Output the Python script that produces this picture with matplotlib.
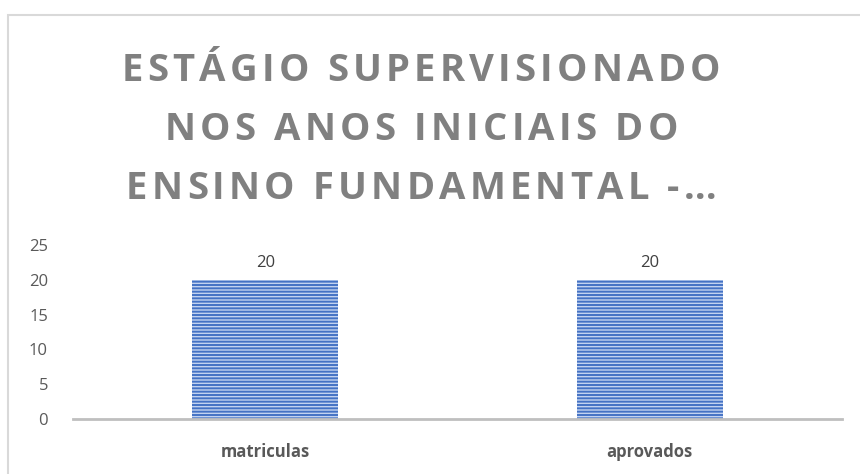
import matplotlib.pyplot as plt
from matplotlib.patches import Rectangle

categorias = ['matriculas', 'aprovados']
valores = [20, 20]
yticks = [0, 5, 10, 15, 20, 25]
titulo = ['ESTÁGIO SUPERVISIONADO', 'NOS ANOS INICIAIS DO', 'ENSINO FUNDAMENTAL -…']

plt.rcParams['font.family'] = ['Open Sans', 'DejaVu Sans']
plt.rcParams['hatch.linewidth'] = 1.4

fig = plt.figure(figsize=(8.6, 4.74), dpi=100)
ax = fig.add_axes([0.0849, 0.116, 0.894, 0.367])

x = range(len(categorias))
bars = ax.bar(x, valores, width=0.38, color='#c3d3f0', edgecolor='#4472c4',
              hatch='-----', linewidth=0)
for b, v in zip(bars, valores):
    ax.text(b.get_x() + b.get_width() / 2, v + 1.3, str(v), ha='center', va='bottom',
            fontsize=12, color='#404040')

ax.set_xlim(-0.5, 1.5)
ax.set_ylim(0, 25)
ax.set_yticks(yticks)
ax.set_xticks(list(x))
ax.set_xticklabels(categorias, fontweight='bold', fontsize=12, color='#595959')
ax.tick_params(axis='y', length=0, labelsize=12, labelcolor='#595959', pad=18)
ax.tick_params(axis='x', length=0, pad=17)
for s in ['top', 'right', 'left']:
    ax.spines[s].set_visible(False)
ax.spines['bottom'].set_color('#bfbfbf')
ax.spines['bottom'].set_linewidth(2)

# title drawn letter by letter to get the wide letter spacing
renderer = fig.canvas.get_renderer()
espaco = 4.2  # px between letters
linhas_y = [474 - 81, 474 - 140, 474 - 199]  # baselines
for linha, ypix in zip(titulo, linhas_y):
    larguras = []
    for ch in linha:
        t = fig.text(0, 0, ch if ch != ' ' else 'a a', fontsize=27.5, fontweight='bold')
        w = t.get_window_extent(renderer).width
        if ch == ' ':
            t2 = fig.text(0, 0, 'aa', fontsize=27.5, fontweight='bold')
            w = w - t2.get_window_extent(renderer).width
            t2.remove()
        t.remove()
        larguras.append(w)
    total = sum(larguras) + espaco * (len(linha) - 1)
    xpix = 421 - total / 2
    for ch, w in zip(linha, larguras):
        if ch != ' ':
            fig.text(xpix / 860, ypix / 474, ch, ha='left', va='baseline', fontsize=27.5,
                     fontweight='bold', color='#808080')
        xpix += w + espaco

# chart border
fig.patches.append(Rectangle((8 / 860, -0.1), 1.2, 1 - 15 / 474 + 0.1,
                             transform=fig.transFigure, fill=False,
                             edgecolor='#d9d9d9', linewidth=1.5))

fig.savefig('out.png', dpi=100)
